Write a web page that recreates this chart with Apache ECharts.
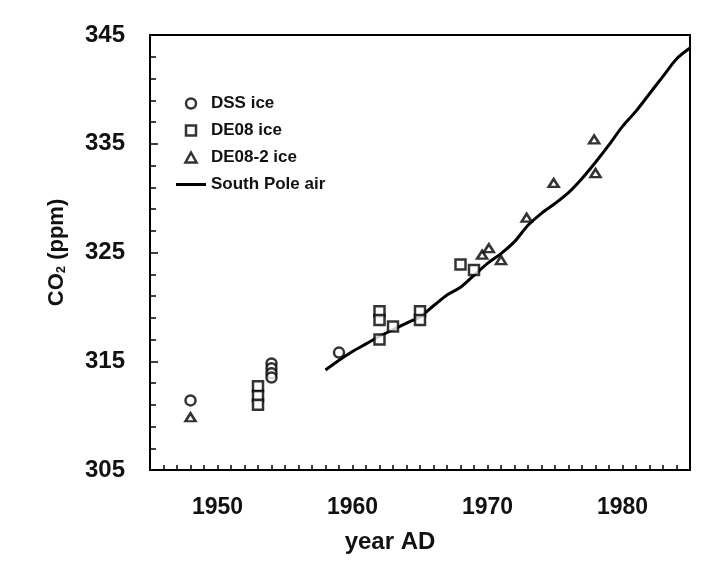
<!DOCTYPE html>
<html>
<head>
<meta charset="utf-8">
<script src="https://cdn.jsdelivr.net/npm/echarts@6/dist/echarts.min.js"></script>
<style>
  html, body { margin: 0; padding: 0; background: #fff; }
  #chart { width: 715px; height: 565px; }
</style>
</head>
<body>
<div id="chart"></div>
<script>
// values: [year AD, CO2 ppm]
var dssIce = [[1948, 311.4], [1954, 314.8], [1954, 314.35], [1954, 313.9], [1954, 313.5], [1959, 315.8]];
var de08Ice = [[1953, 312.7], [1953, 311.8], [1953, 311.0], [1962, 319.6], [1962, 318.8], [1962, 317.0],
  [1963, 318.2], [1965, 319.6], [1965, 318.8], [1968, 323.9], [1969, 323.4]];
var de08Ice2 = [[1948, 309.85], [1969.6, 324.8], [1970.1, 325.4], [1971, 324.3], [1972.9, 328.2],
  [1974.9, 331.4], [1977.9, 335.4], [1978, 332.3]];
var southPoleAir = [[1958, 314.2], [1959, 315.1], [1960, 315.9], [1961, 316.6], [1962, 317.3], [1963, 317.9],
  [1964, 318.5], [1965, 319.1], [1966, 320.1], [1967, 321.1], [1968, 321.8], [1969, 322.9], [1970, 324.0],
  [1971, 324.9], [1972, 326.0], [1973, 327.5], [1974, 328.6], [1975, 329.5], [1976, 330.5], [1977, 331.8],
  [1978, 333.3], [1979, 334.9], [1980, 336.6], [1981, 338.0], [1982, 339.6], [1983, 341.2], [1984, 342.8],
  [1985, 343.8]];
var seriesNames = ['DSS ice', 'DE08 ice', 'DE08-2 ice', 'South Pole air'];

var font = "'Liberation Sans', Arial, Helvetica, sans-serif";
var chart = echarts.init(document.getElementById('chart'));

// hollow markers like the scan
var hollow = { color: '#fff', borderColor: '#000', borderWidth: 2.5 };

chart.setOption({
  backgroundColor: '#fff',
  animation: false,
  textStyle: { fontFamily: font, color: '#000' },
  grid: {
    left: 150, right: 25, top: 35, bottom: 95,
    show: true, borderColor: '#000', borderWidth: 2
  },
  legend: {
    orient: 'vertical',
    left: 171,
    top: 90,
    itemWidth: 30,
    itemHeight: 10,
    itemGap: 10,
    symbolKeepAspect: true,
    textStyle: { fontFamily: font, fontSize: 17, fontWeight: 'bold', color: '#111' },
    data: [
      { name: seriesNames[0], icon: 'circle', itemStyle: hollow },
      { name: seriesNames[1], icon: 'path://M0,0L10,0L10,10L0,10Z', itemStyle: hollow },
      { name: seriesNames[2], icon: 'path://M5,0L10,9L0,9Z', itemStyle: hollow },
      { name: seriesNames[3], icon: 'path://M0,0L30,0L30,3L0,3Z', itemStyle: { color: '#000', borderWidth: 0 } }
    ]
  },
  xAxis: {
    type: 'value',
    min: 1945,
    max: 1985,
    interval: 5,
    name: 'year AD',
    nameLocation: 'middle',
    nameGap: 60,
    nameTextStyle: { fontSize: 24, fontWeight: 'bold', color: '#111', padding: [0, 60, 0, 0] },
    axisLine: { lineStyle: { color: '#000', width: 2 } },
    axisTick: { inside: true, length: 5, lineStyle: { color: '#000', width: 1.5 } },
    minorTick: { show: true, splitNumber: 5, length: 5, lineStyle: { color: '#000', width: 1.5 } },
    axisLabel: {
      fontSize: 23, fontWeight: 'bold', color: '#111', margin: 26,
      formatter: function (v) { return v % 10 === 0 ? String(v) : ''; }
    },
    splitLine: { show: false }
  },
  yAxis: {
    type: 'value',
    min: 305,
    max: 345,
    interval: 10,
    name: '{a|CO}{s|2}{a| (ppm)}',
    nameLocation: 'middle',
    nameGap: 82,
    nameRotate: 90,
    nameTextStyle: {
      rich: {
        a: { fontSize: 22, fontWeight: 'bold', fontFamily: font, color: '#111' },
        s: { fontSize: 13, fontWeight: 'bold', fontFamily: font, color: '#111', padding: [10, 0, 0, 0] }
      }
    },
    axisLine: { lineStyle: { color: '#000', width: 2 } },
    axisTick: { inside: true, length: 8, lineStyle: { color: '#000', width: 1.5 } },
    minorTick: { show: true, splitNumber: 5, length: 6, lineStyle: { color: '#000', width: 1.5 } },
    axisLabel: { fontSize: 24, fontWeight: 'bold', color: '#111', margin: 25 },
    splitLine: { show: false }
  },
  series: [
    {
      name: 'South Pole air',
      type: 'line',
      data: southPoleAir,
      symbol: 'none',
      smooth: 0.3,
      lineStyle: { color: '#000', width: 3 },
      itemStyle: { color: '#000' },
      z: 2
    },
    {
      name: 'DSS ice',
      type: 'scatter',
      data: dssIce,
      symbol: 'circle',
      symbolSize: 10,
      itemStyle: hollow,
      z: 3
    },
    {
      name: 'DE08 ice',
      type: 'scatter',
      data: de08Ice,
      symbol: 'rect',
      symbolSize: 10,
      itemStyle: hollow,
      z: 3
    },
    {
      name: 'DE08-2 ice',
      type: 'scatter',
      data: de08Ice2,
      symbol: 'triangle',
      symbolSize: [10, 8],
      itemStyle: hollow,
      z: 3
    }
  ]
});
</script>
</body>
</html>
